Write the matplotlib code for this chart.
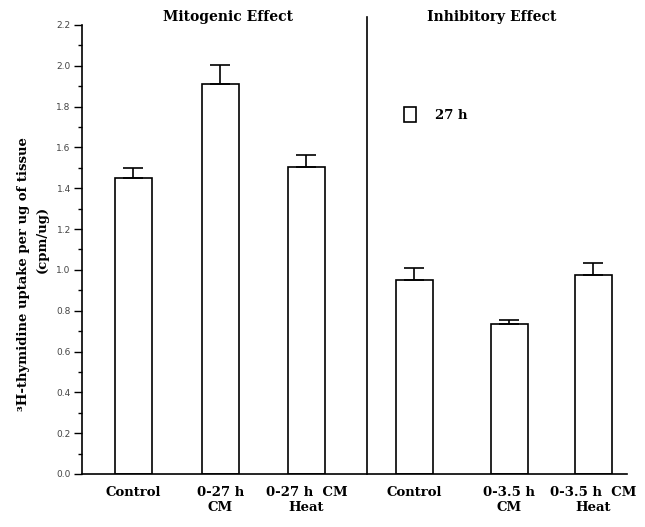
import matplotlib
matplotlib.use("Agg")
import matplotlib.pyplot as plt
from matplotlib.patches import Patch
from matplotlib.ticker import MultipleLocator

# data
labels = ["Control", "0-27 h\nCM", "0-27 h  CM\nHeat",
          "Control", "0-3.5 h\nCM", "0-3.5 h  CM\nHeat"]
uptake = [1.45, 1.91, 1.505, 0.95, 0.735, 0.975]
sem = [0.05, 0.095, 0.06, 0.06, 0.02, 0.06]
panel_titles = ["Mitogenic Effect", "Inhibitory Effect"]
legend_label = "27 h"

# layout (axes x units ~ pixels from the y axis)
xpos = [51.5, 138.5, 224.5, 332.5, 427.5, 511.5]
divider_x = 285
serif = "DejaVu Serif"

fig = plt.figure(figsize=(6.45, 5.27), dpi=100)
ax = fig.add_axes([0.127, 0.1006, 0.845, 0.852])

ax.bar(xpos, uptake, width=37, color="white", edgecolor="black", linewidth=1.2, zorder=2)
ax.errorbar(xpos, uptake, yerr=[[0] * len(sem), sem], fmt="none", ecolor="black",
            elinewidth=1.2, capsize=7, capthick=1.2, zorder=3)

ax.set_xlim(0, 545)
ax.set_ylim(0, 2.2)
ax.yaxis.set_major_locator(MultipleLocator(0.2))
ax.yaxis.set_minor_locator(MultipleLocator(0.1))
ax.set_yticklabels([f"{v:.1f}" for v in ax.get_yticks()])
ax.tick_params(axis="y", which="major", length=6, width=1, labelsize=6.5,
               labelcolor="#444444", pad=2)
ax.tick_params(axis="y", which="minor", length=3, width=1)
ax.set_xticks(xpos)
ax.set_xticklabels(labels, fontfamily=serif, fontweight="bold", fontsize=9.5,
                   linespacing=1.2)
ax.tick_params(axis="x", length=0, pad=9)

for side in ["top", "right"]:
    ax.spines[side].set_visible(False)
ax.spines["left"].set_linewidth(1.2)
ax.spines["bottom"].set_linewidth(1.2)

# divider between the two experiments
ax.plot([divider_x, divider_x], [0, 2.24], color="black", linewidth=1.2, clip_on=False)

fig.text(0.353, 0.968, panel_titles[0], ha="center", va="center",
         fontfamily=serif, fontweight="bold", fontsize=10)
fig.text(0.763, 0.968, panel_titles[1], ha="center", va="center",
         fontfamily=serif, fontweight="bold", fontsize=10)

fig.text(0.036, 0.48, "³H-thymidine uptake per ug of tissue", rotation=90,
         ha="center", va="center", fontfamily=serif, fontweight="bold", fontsize=9.5)
fig.text(0.066, 0.545, "(cpm/ug)", rotation=90, ha="center", va="center",
         fontfamily=serif, fontweight="bold", fontsize=9.5)

handle = Patch(facecolor="white", edgecolor="black", linewidth=1.2)
ax.legend([handle], [legend_label], loc="center left", bbox_to_anchor=(0.57, 0.80),
          frameon=False, handlelength=0.9, handleheight=1.3, handletextpad=1.4,
          prop={"family": serif, "weight": "bold", "size": 9.5})

fig.savefig("out.png", dpi=100)
